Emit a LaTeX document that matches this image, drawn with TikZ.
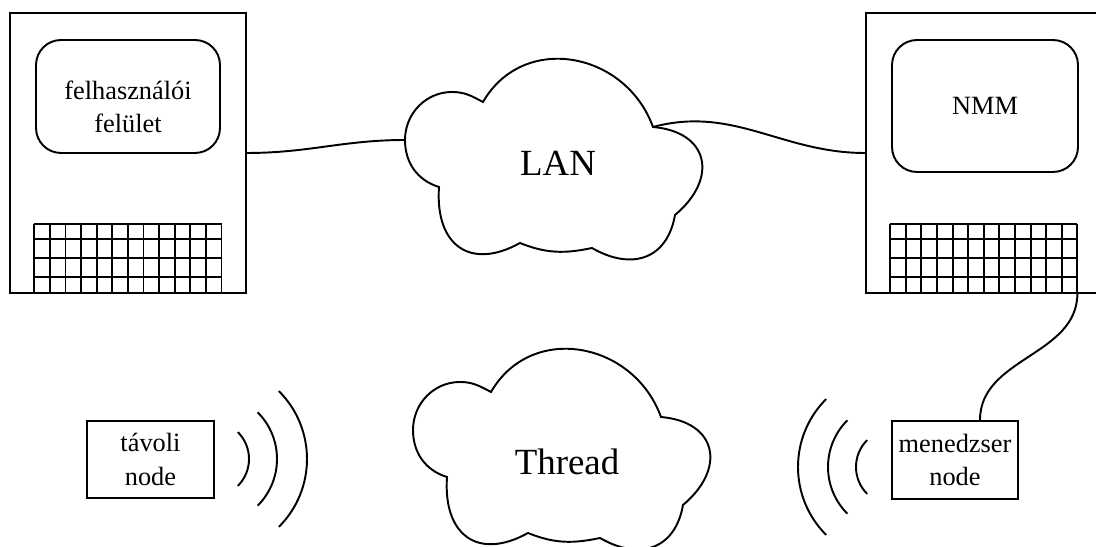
\documentclass[tikz,border=0pt]{standalone}
\usepackage{fontspec}
\setmainfont{Liberation Serif}

\begin{document}
\begin{tikzpicture}[x=0.02cm,y=0.02cm,line width=1.1pt,
    pcbox/.style={draw,minimum width=4.72cm,minimum height=5.6cm,inner sep=0pt},
    screen/.style={draw,rounded corners=0.5cm,inner sep=0pt,font=\fontsize{15}{19}\selectfont},
    nodebox/.style={draw,align=center,inner sep=0pt,font=\fontsize{15}{19}\selectfont},
    cloudlabel/.style={font=\fontsize{21}{25}\selectfont}]
    \useasboundingbox (0,0) rectangle (1096,547);

    % gepek
    \node[pcbox] (pc1) at (128,394) {};
    \node[pcbox] (pc2) at (984,394) {};

    \node[screen,minimum width=3.68cm,minimum height=2.26cm] (scr1) at (128,450.5) {};
    \node[align=center,font=\fontsize{15}{19}\selectfont] (uitext) at (128,440) {felhasználói\\felület};
    \node[screen,minimum width=3.72cm,minimum height=2.64cm] (scr2) at (985,441) {NMM};

    % billentyuzetek
    \foreach \kx in {34.3,890.2} {
        \foreach \i in {0,...,12}
            \draw ({\kx+\i*15.6},253.7) -- ({\kx+\i*15.6},322.7);
        \foreach \y in {253.7,269.7,288.7,307.7,322.7}
            \draw (\kx,\y) -- ({\kx+187.2},\y);
    }
    \coordinate (kb2) at (1077.4,253.7);

    % felhok
    \foreach \dx/\dy in {0/0,8/-290}
        \draw[shift={(\dx,\dy)},fill=white] (483,445) to[out=60,in=110,looseness=1.2] (653,420)
            to[out=-5,in=40,looseness=1.6] (675,332) to[out=-100,in=-30,looseness=1.3] (592,299)
            to[out=192,in=-22] (520,304) to[out=209,in=-94,looseness=1.5] (439,360)
            to[out=163,in=-90] (405,407) to[out=90,in=180] (452,455)
            to[out=0,in=152] (483,445) -- cycle;
    \node[cloudlabel] (lan) at (558,384) {LAN};
    \node[cloudlabel] (thread) at (567,85) {Thread};
    \coordinate (lanw) at (405,407);
    \coordinate (lanne) at (653,420);

    % node-ok
    \node[nodebox,minimum width=2.54cm,minimum height=1.54cm] (tavoli) at (150.5,87.5) {távoli\\node};
    \node[nodebox,minimum width=2.52cm,minimum height=1.56cm] (menedzser) at (955,87) {menedzser\\node};

    % kabelek
    \draw (pc1.east) to[out=0,in=180] (lanw);
    \draw (lanne) to[out=15,in=180] (pc2.west);
    \draw (kb2) to[out=-90,in=90] ([xshift=0.5cm]menedzser.north);

    % radio hullamok
    \coordinate (wl) at (211,88);
    \coordinate (wr) at (894,80);
    \foreach \r in {38,66,96} {
        \draw ([shift={(45:\r)}]wl) arc[start angle=45,end angle=-45,radius=\r];
        \draw ([shift={(135:\r)}]wr) arc[start angle=135,end angle=225,radius=\r];
    }
\end{tikzpicture}
\end{document}
